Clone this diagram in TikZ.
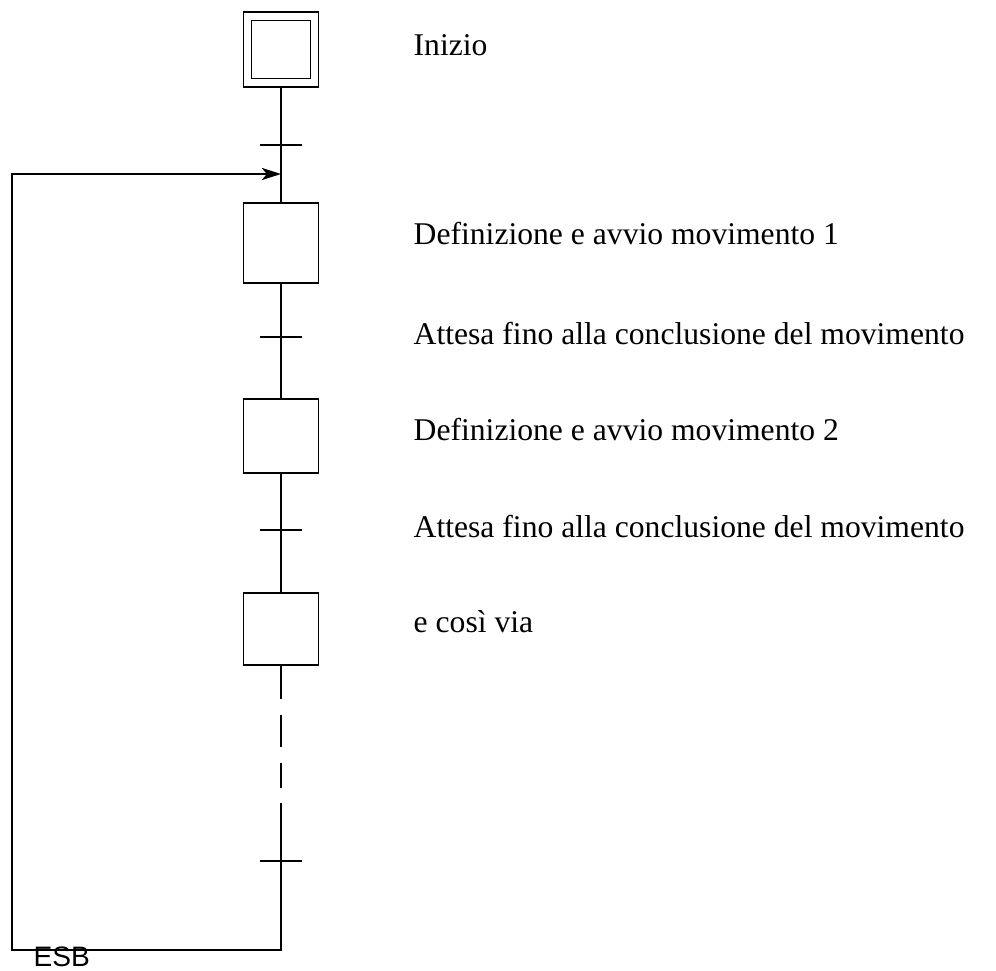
\documentclass[tikz,border=0pt]{standalone}
\usepackage{fontspec}
\setmainfont{Liberation Serif}
\setsansfont{Liberation Sans}
\usetikzlibrary{arrows.meta}

\begin{document}
\begin{tikzpicture}[>={Stealth[length=11pt,width=7pt,inset=3pt]}, line width=0.8pt,
		stepbox/.style={draw, minimum width=1.5cm, minimum height=1.5cm, inner sep=0pt},
		txt/.style={anchor=base west, inner sep=0pt, font=\fontsize{18}{22}\selectfont}]
		\useasboundingbox (0,0) rectangle (19.92,-19.40);
		% initial step
		\node[stepbox] (init) at (5.62,-0.99) {};
		\node[stepbox, minimum width=1.17cm, minimum height=1.17cm] (initin) at (init) {};
		% steps
		\node[stepbox, minimum height=1.6cm] (s1) at (5.62,-4.86) {};
		\node[stepbox, minimum height=1.48cm] (s2) at (5.62,-8.72) {};
		\node[stepbox, minimum height=1.44cm] (s3) at (5.62,-12.58) {};
		% transitions and loop corners
		\coordinate (t0) at (5.62,-2.90);
		\coordinate (t1) at (5.62,-6.74);
		\coordinate (t2) at (5.62,-10.60);
		\coordinate (t3) at (5.62,-17.22);
		\coordinate (dend) at (5.62,-16.06);
		\coordinate (in) at (5.62,-3.48);
		\coordinate (br) at (5.62,-19.00);
		\coordinate (bl) at (0.24,-19.00);
		\coordinate (tl) at (0.24,-3.48);
		% main line
		\draw (init) -- (s1);
		\draw (s1) -- (s2);
		\draw (s2) -- (s3);
		\draw[line width=1.1pt, dash pattern=on 0.66cm off 0.32cm on 0.64cm off 0.32cm on 0.5cm off 0.32cm] (s3.south) -- (dend);
		\draw[->] (dend) -- (br) -- (bl) -- (tl) -- (in);
		\foreach \t in {t0,t1,t2,t3} \draw ([xshift=-0.42cm]\t) -- ([xshift=0.42cm]\t);
		% labels
		\node[txt] (linizio) at (8.26,-1.12) {Inizio};
		\node[txt] (ldef1) at (8.26,-4.88) {Definizione e avvio movimento 1};
		\node[txt] (latt1) at (8.26,-6.88) {Attesa fino alla conclusione del movimento};
		\node[txt] (ldef2) at (8.26,-8.80) {Definizione e avvio movimento 2};
		\node[txt] (latt2) at (8.26,-10.74) {Attesa fino alla conclusione del movimento};
		\node[txt] (lvia) at (8.26,-12.64) {e così via};
		\node[anchor=base west, inner sep=0pt, font=\fontsize{16}{19}\sffamily] (esb) at (0.66,-19.32) {ESB};
	\end{tikzpicture}
\end{document}
